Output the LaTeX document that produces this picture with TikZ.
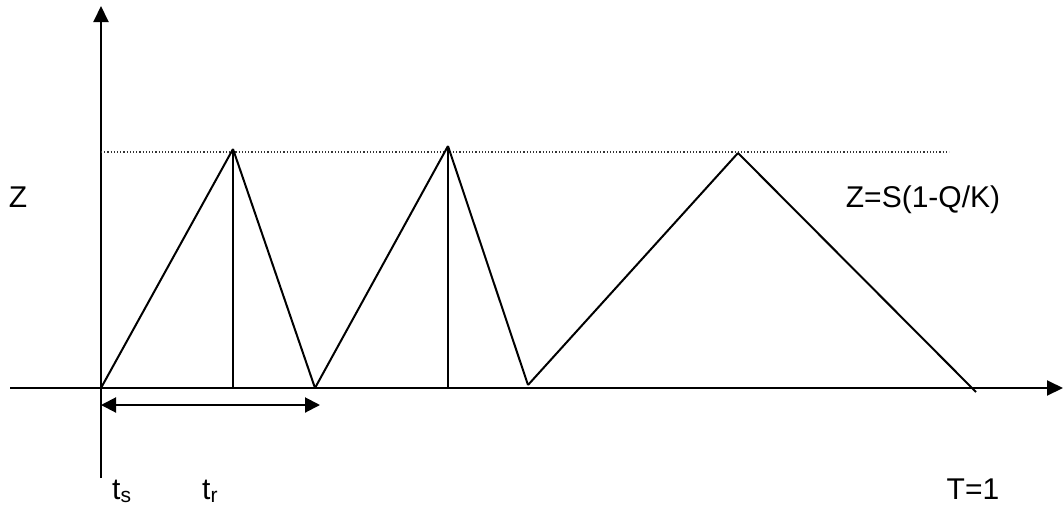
\documentclass[tikz,border=0pt]{standalone}
\usepackage{fontspec}
\setmainfont{Liberation Sans}
\usepackage{tikz}
\usetikzlibrary{arrows.meta,positioning}

\begin{document}
\begin{tikzpicture}[
    x=1pt, y=-1pt,
    font=\fontsize{30}{36}\selectfont,
    axisline/.style={line width=2pt, -{Triangle[length=16pt, width=15pt]}},
    zig/.style={line width=2pt},
    guide/.style={line width=1.2pt, dotted, black!80},
    span/.style={line width=2pt, {Triangle[length=15pt, width=15pt]}-{Triangle[length=15pt, width=15pt]}},
    lbl/.style={inner sep=0pt, anchor=base}
]
\useasboundingbox (0,0) rectangle (1063,507);

% axes
\coordinate (ybot) at (101,478);
\coordinate (ytop) at (101,6);
\coordinate (xleft) at (10,388);
\coordinate (xright) at (1063,388);
\draw[axisline] (ybot) -- (ytop);
\draw[axisline] (xleft) -- (xright);

% level line
\coordinate (lvlL) at (101,152);
\coordinate (lvlR) at (949,152);
\draw[guide] (lvlL) -- (lvlR);

% cycles
\coordinate (o) at (101,388);
\coordinate (p1) at (233,149);
\coordinate (a1) at (315,388);
\coordinate (p2) at (448,146);
\coordinate (a2) at (528,385);
\coordinate (p3) at (738,153);
\coordinate (a3) at (976,392);
\coordinate (f1) at (233,388);
\coordinate (f2) at (448,388);

\foreach \a/\b in {o/p1, p1/a1, a1/p2, p2/a2, a2/p3, p3/a3, p1/f1, p2/f2}
  \draw[zig] (\a) -- (\b);

% period
\coordinate (sL) at (101,405);
\coordinate (sR) at (320,405);
\draw[span] (sL) -- (sR);

% labels
\node[lbl] (zlab) at (18,207) {Z};
\node[lbl] (zform) at (923,207) {Z=S(1-Q/K)};
\node[lbl, anchor=base west] (ts) at (112,499) {t\textsubscript{s}};
\node[lbl, anchor=base west] (tr) at (202,499) {t\textsubscript{r}};
\node[lbl] (tend) at (973,499) {T=1};
\end{tikzpicture}
\end{document}
